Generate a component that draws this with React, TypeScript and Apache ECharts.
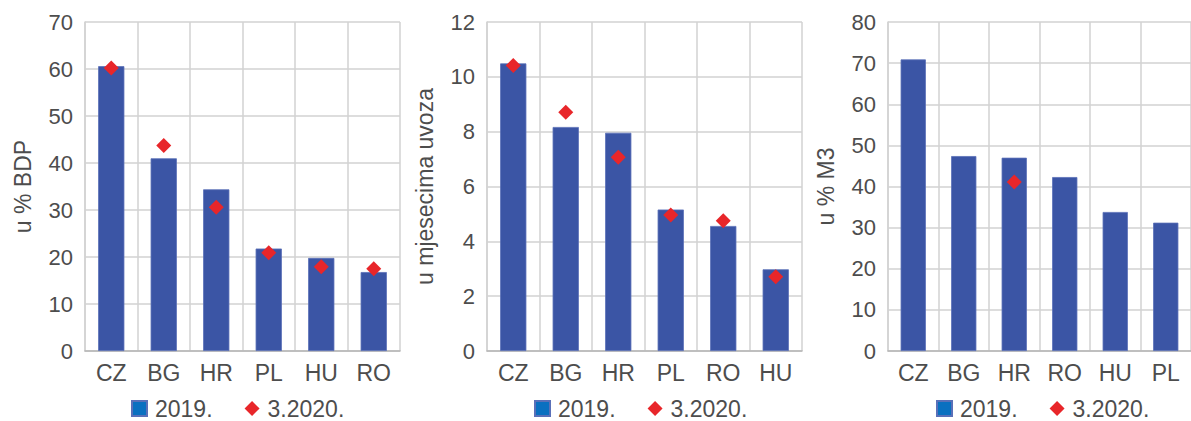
import React, { useEffect, useRef } from "react";
import * as echarts from "echarts";

const cats1 = ["CZ", "BG", "HR", "PL", "HU", "RO"];
const bars1 = [60.6, 41.0, 34.4, 21.8, 19.8, 16.8];
const marks1 = [60.2, 43.7, 30.6, 20.9, 17.9, 17.5];

const cats2 = ["CZ", "BG", "HR", "PL", "RO", "HU"];
const bars2 = [10.49, 8.17, 7.96, 5.16, 4.56, 2.98];
const marks2 = [10.41, 8.71, 7.07, 4.96, 4.75, 2.71];

const cats3 = ["CZ", "BG", "HR", "RO", "HU", "PL"];
const bars3 = [70.9, 47.4, 47.0, 42.3, 33.8, 31.2];
const marks3: (number | null)[] = [null, null, 41.1, null, null, null];

const axisNames = ["u % BDP", "u mjesecima uvoza", "u % M3"];
const yMax = [70, 12, 80];
const yStep = [10, 2, 10];
const seriesNames = ["2019.", "3.2020."];

const FONT = "'Liberation Sans', Arial, sans-serif";
const TXT = "#4d4d4d";
const GRIDC = "#d2d2d2";
const BAR = "#3b55a5";
const LEG_BLUE = "#0a70c0";
const RED = "#e8262a";

export default function App() {
  const ref = useRef<HTMLDivElement>(null);
  useEffect(() => {
    document.body.style.margin = "0";
    const chart = echarts.init(ref.current!, null, { renderer: "svg" });
    const cats = [cats1, cats2, cats3];
    const bars = [bars1, bars2, bars3];
    const marks = [marks1, marks2, marks3];
    const lefts = [85, 487, 888];
    const width = 315;
    const legendLefts = [131, 534, 936];

    const grid = lefts.map((l) => ({ left: l, top: 22, width, height: 329 }));
    const xAxis = cats.map((c, i) => ({
      type: "category",
      gridIndex: i,
      data: c,
      boundaryGap: true,
      axisLine: { show: true, lineStyle: { color: "#b5b5b5", width: 1.5 } },
      axisTick: { show: false },
      axisLabel: { fontSize: 23, color: TXT, fontFamily: FONT, margin: 10 },
      splitLine: { show: true, lineStyle: { color: GRIDC, width: 1.5 } },
    }));
    const yAxis = cats.map((_, i) => ({
      type: "value",
      gridIndex: i,
      min: 0,
      max: yMax[i],
      interval: yStep[i],
      name: axisNames[i],
      nameLocation: "middle",
      nameGap: 51,
      nameTextStyle: { fontSize: 23, color: TXT, fontFamily: FONT },
      axisLine: { show: true, lineStyle: { color: GRIDC, width: 1.5 } },
      axisTick: { show: false },
      axisLabel: { fontSize: 22, color: TXT, fontFamily: FONT, margin: 12 },
      splitLine: { show: true, lineStyle: { color: GRIDC, width: 1.5 } },
    }));
    const series: any[] = [];
    cats.forEach((_, i) => {
      series.push({
        type: "bar",
        name: seriesNames[0],
        xAxisIndex: i,
        yAxisIndex: i,
        data: bars[i],
        barWidth: "50%",
        itemStyle: { color: BAR, borderColor: "#5a70b8", borderWidth: 0.8 },
      });
      series.push({
        type: "scatter",
        name: seriesNames[1],
        xAxisIndex: i,
        yAxisIndex: i,
        data: marks[i],
        symbol: "diamond",
        symbolSize: 15,
        itemStyle: { color: RED, opacity: 1 },
        z: 5,
      });
    });
    const legend = legendLefts.map((l) => ({
      left: l,
      top: 397,
      padding: 0,
      itemGap: 32,
      itemWidth: 15,
      itemHeight: 15,
      textStyle: {
        fontSize: 23,
        color: TXT,
        fontFamily: FONT,
        padding: [0, 0, 0, 3],
      },
      data: [
        { name: seriesNames[0], icon: "rect", itemStyle: { color: LEG_BLUE } },
        { name: seriesNames[1], icon: "diamond", itemStyle: { color: RED } },
      ],
    }));
    chart.setOption({
      animation: false,
      backgroundColor: "#ffffff",
      grid,
      xAxis,
      yAxis,
      series,
      legend,
    });
    return () => chart.dispose();
  }, []);
  return (
    <div
      ref={ref}
      style={{ position: "absolute", left: 0, top: 0, width: 1191, height: 421 }}
    />
  );
}
